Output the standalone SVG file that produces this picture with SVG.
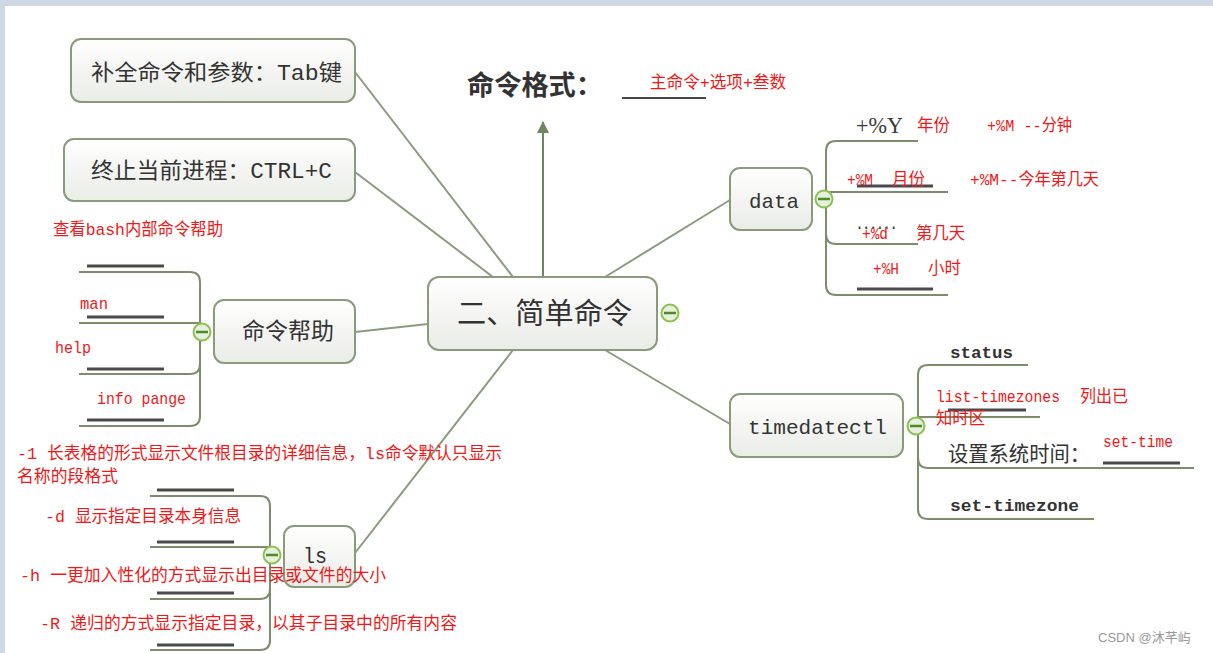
<svg xmlns="http://www.w3.org/2000/svg" width="1213" height="653" viewBox="0 0 1213 653">
<defs>
<linearGradient id="nodeFill" x1="0" y1="0" x2="0" y2="1">
<stop offset="0" stop-color="#ffffff"/>
<stop offset="1" stop-color="#eaece7"/>
</linearGradient>
<marker id="arrow" viewBox="0 0 12 12" refX="11" refY="6" markerWidth="12" markerHeight="12" markerUnits="userSpaceOnUse" orient="auto">
<path d="M0,0 L12,6 L0,12 Z" fill="#6f8760"/>
</marker>
</defs>
<style>
.box{fill:url(#nodeFill);stroke:#8a9b7c;stroke-width:2}
.conn{fill:none;stroke:#8c9a80;stroke-width:2}
.branch{fill:none;stroke:#7c8c6c;stroke-width:2}
.ul{stroke:#4a4a4a;stroke-width:3}
.tog circle{fill:#e6f0dc;stroke:#8cc152;stroke-width:2}
.tog line{stroke:#4f8a2a;stroke-width:2.5}
.nt{font-family:"Liberation Mono","Noto Sans CJK SC",monospace;fill:#333}
.red{font-family:"Liberation Mono","Noto Sans CJK SC",monospace;font-size:17px;fill:#f01818}
.dk{font-family:"Liberation Mono","Noto Sans CJK SC",monospace;font-weight:bold;fill:#333}
</style>
<rect x="0" y="0" width="1213" height="653" fill="#ffffff"/>
<rect x="0" y="0" width="1213" height="6" fill="#cfd9e6"/>
<rect x="0" y="0" width="5" height="653" fill="#cfd9e6"/>

<g id="connectors">
<line class="conn" x1="355" y1="72" x2="513" y2="277"/>
<line class="conn" x1="355" y1="172" x2="493" y2="277"/>
<line class="conn" x1="355" y1="332" x2="428" y2="324"/>
<line class="conn" x1="355" y1="553" x2="513" y2="350"/>
<line class="conn" x1="605" y1="277" x2="730" y2="200"/>
<line class="conn" x1="605" y1="350" x2="730" y2="424"/>
<line x1="543" y1="277" x2="543" y2="122" stroke="#6f8760" stroke-width="2" marker-end="url(#arrow)"/>
</g>

<g id="format">
<text x="467" y="95" font-family="'Noto Sans CJK SC',sans-serif" font-weight="bold" font-size="27" fill="#333" textLength="136" lengthAdjust="spacingAndGlyphs">命令格式：</text>
<line x1="622" y1="98" x2="706" y2="98" stroke="#444" stroke-width="2"/>
<text class="red" x="650" y="88" textLength="136" lengthAdjust="spacingAndGlyphs">主命令+选项+叁数</text>
</g>

<g id="main">
<rect class="box" x="428" y="277" width="229" height="73" rx="11"/>
<text class="nt" x="457" y="324" font-size="29" textLength="175" lengthAdjust="spacingAndGlyphs">二、简单命令</text>
<g class="tog"><circle cx="670" cy="313" r="8.5"/><line x1="664" y1="313" x2="676" y2="313"/></g>
</g>

<g id="tab">
<rect class="box" x="71" y="39" width="284" height="63" rx="10"/>
<text class="nt" x="91" y="80" font-size="22" textLength="251" lengthAdjust="spacingAndGlyphs">补全命令和参数：Tab键</text>
</g>

<g id="ctrl">
<rect class="box" x="64" y="139" width="291" height="62" rx="10"/>
<text class="nt" x="91" y="178" font-size="22" textLength="241" lengthAdjust="spacingAndGlyphs">终止当前进程：CTRL+C</text>
</g>

<g id="help">
<rect class="box" x="214" y="300" width="141" height="63" rx="10"/>
<text class="nt" x="242" y="339" font-size="23" textLength="92" lengthAdjust="spacingAndGlyphs">命令帮助</text>
<path class="branch" d="M200,332 V282 Q200,272 190,272 H79 M200,332 V323 H79 M200,332 V364 Q200,374 190,374 H79 M200,332 V416 Q200,426 190,426 H79"/>
<line class="ul" x1="87" y1="266" x2="164" y2="266"/>
<line class="ul" x1="87" y1="317" x2="164" y2="317"/>
<line class="ul" x1="87" y1="369" x2="164" y2="369"/>
<line class="ul" x1="87" y1="420" x2="164" y2="420"/>
<g class="tog"><circle cx="202" cy="332" r="8.5"/><line x1="196" y1="332" x2="208" y2="332"/></g>
<text class="red" x="53" y="235" textLength="170" lengthAdjust="spacingAndGlyphs">查看bash内部命令帮助</text>
<text class="red" x="80" y="309" textLength="28" lengthAdjust="spacingAndGlyphs">man</text>
<text class="red" x="55" y="353" textLength="36" lengthAdjust="spacingAndGlyphs">help</text>
<text class="red" x="97" y="404" textLength="89" lengthAdjust="spacingAndGlyphs">info pange</text>
</g>

<g id="ls">
<rect class="box" x="284" y="526" width="71" height="61" rx="10"/>
<text class="nt" x="303" y="563" font-size="22" textLength="24" lengthAdjust="spacingAndGlyphs">ls</text>
<path class="branch" d="M270,555 V506 Q270,496 260,496 H150 M270,555 V547 H150 M270,555 V589 Q270,599 260,599 H150 M270,555 V640 Q270,650 260,650 H150"/>
<line class="ul" x1="157" y1="490" x2="234" y2="490"/>
<line class="ul" x1="157" y1="542" x2="234" y2="542"/>
<line class="ul" x1="157" y1="593" x2="234" y2="593"/>
<line class="ul" x1="157" y1="645" x2="234" y2="645"/>
<g class="tog"><circle cx="272" cy="555" r="8.5"/><line x1="266" y1="555" x2="278" y2="555"/></g>
<text class="red" x="17" y="459" textLength="485" lengthAdjust="spacingAndGlyphs">-1 长表格的形式显示文件根目录的详细信息，ls命令默认只显示</text>
<text class="red" x="17" y="482" textLength="101" lengthAdjust="spacingAndGlyphs">名称的段格式</text>
<text class="red" x="45" y="522" textLength="196" lengthAdjust="spacingAndGlyphs">-d 显示指定目录本身信息</text>
<text class="red" x="20" y="581" textLength="366" lengthAdjust="spacingAndGlyphs">-h 一更加入性化的方式显示出目录或文件的大小</text>
<text class="red" x="40" y="629" textLength="417" lengthAdjust="spacingAndGlyphs">-R 递归的方式显示指定目录，以其子目录中的所有内容</text>
</g>

<g id="data">
<rect class="box" x="730" y="168" width="82" height="62" rx="10"/>
<text class="nt" x="749" y="208" font-size="21" textLength="50" lengthAdjust="spacingAndGlyphs">data</text>
<path class="branch" d="M826,199 V151 Q826,141 836,141 H918 M826,199 V192 H948 M826,199 V234 Q826,244 836,244 H918 M826,199 V285 Q826,295 836,295 H948"/>
<line class="ul" x1="857" y1="186" x2="933" y2="186"/>
<line class="ul" x1="857" y1="289" x2="933" y2="289"/>
<g class="tog"><circle cx="824" cy="199" r="8.5"/><line x1="818" y1="199" x2="830" y2="199"/></g>
<text x="856" y="133" font-family="'Liberation Serif',serif" font-size="23" fill="#3a3a3a" textLength="47" lengthAdjust="spacingAndGlyphs">+%Y</text>
<text class="red" x="917" y="131" textLength="33" lengthAdjust="spacingAndGlyphs">年份</text>
<text class="red" x="987" y="131" textLength="85" lengthAdjust="spacingAndGlyphs">+%M --分钟</text>
<text class="red" x="847" y="185" textLength="26" lengthAdjust="spacingAndGlyphs">+%M</text>
<text class="red" x="892" y="185" textLength="33" lengthAdjust="spacingAndGlyphs">月份</text>
<text class="red" x="970" y="185" textLength="129" lengthAdjust="spacingAndGlyphs">+%M--今年第几天</text>
<text class="dk" x="856" y="229" font-size="16" textLength="41" lengthAdjust="spacingAndGlyphs">......</text>
<text class="red" x="862" y="239" textLength="26" lengthAdjust="spacingAndGlyphs">+%d</text>
<text class="red" x="916" y="239" textLength="49" lengthAdjust="spacingAndGlyphs">第几天</text>
<text class="red" x="873" y="274" textLength="26" lengthAdjust="spacingAndGlyphs">+%H</text>
<text class="red" x="928" y="274" textLength="33" lengthAdjust="spacingAndGlyphs">小时</text>
</g>

<g id="timedatectl">
<rect class="box" x="730" y="394" width="173" height="63" rx="10"/>
<text class="nt" x="748" y="434" font-size="21" textLength="139" lengthAdjust="spacingAndGlyphs">timedatectl</text>
<path class="branch" d="M918,426 V375 Q918,365 928,365 H1028 M918,426 V417 H1040 M918,426 V458 Q918,468 928,468 H1194 M918,426 V509 Q918,519 928,519 H1094"/>
<line class="ul" x1="948" y1="410" x2="1026" y2="410"/>
<line class="ul" x1="1103" y1="463" x2="1180" y2="463"/>
<g class="tog"><circle cx="916" cy="426" r="8.5"/><line x1="910" y1="426" x2="922" y2="426"/></g>
<text class="dk" x="950" y="358" font-size="17" textLength="63" lengthAdjust="spacingAndGlyphs">status</text>
<text class="red" x="936" y="402" textLength="124" lengthAdjust="spacingAndGlyphs">list-timezones</text>
<text class="red" x="1080" y="402" textLength="48" lengthAdjust="spacingAndGlyphs">列出已</text>
<text class="red" x="936" y="424" textLength="49" lengthAdjust="spacingAndGlyphs">知时区</text>
<text x="948" y="461" font-family="'Noto Sans CJK SC',sans-serif" font-size="21" fill="#333" textLength="142" lengthAdjust="spacingAndGlyphs">设置系统时间：</text>
<text class="red" x="1103" y="447" textLength="70" lengthAdjust="spacingAndGlyphs">set-time</text>
<text class="dk" x="950" y="511" font-size="17" textLength="129" lengthAdjust="spacingAndGlyphs">set-timezone</text>
</g>

<text x="1098" y="642" font-family="'Liberation Sans','Noto Sans CJK SC',sans-serif" font-size="13" fill="#999">CSDN @沐芊屿</text>
</svg>
